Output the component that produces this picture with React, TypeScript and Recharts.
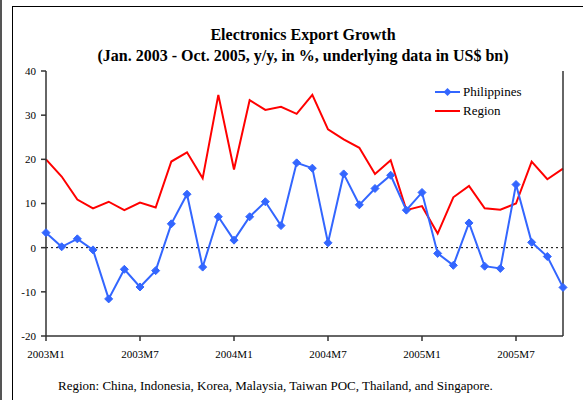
import React from 'react';
import { LineChart, Line, XAxis, YAxis, ReferenceLine } from 'recharts';

// Monthly categories, Jan 2003 to Oct 2005
const months = [
  '2003M1', '2003M2', '2003M3', '2003M4', '2003M5', '2003M6', '2003M7', '2003M8', '2003M9', '2003M10', '2003M11', '2003M12',
  '2004M1', '2004M2', '2004M3', '2004M4', '2004M5', '2004M6', '2004M7', '2004M8', '2004M9', '2004M10', '2004M11', '2004M12',
  '2005M1', '2005M2', '2005M3', '2005M4', '2005M5', '2005M6', '2005M7', '2005M8', '2005M9', '2005M10',
];

// y/y growth, in %
const philippines = [
  3.4, 0.2, 2.0, -0.5, -11.6, -4.9, -8.9, -5.2, 5.4, 12.1, -4.4, 7.0,
  1.7, 7.0, 10.4, 5.0, 19.2, 18.0, 1.1, 16.7, 9.7, 13.4, 16.4, 8.5,
  12.5, -1.3, -4.0, 5.6, -4.2, -4.7, 14.3, 1.2, -2.0, -9.0,
];
const region = [
  20.0, 16.1, 10.9, 8.9, 10.4, 8.5, 10.2, 9.1, 19.5, 21.6, 15.7, 34.6,
  17.7, 33.4, 31.2, 31.9, 30.3, 34.6, 26.8, 24.5, 22.6, 16.7, 19.8, 8.5,
  9.4, 3.2, 11.4, 14.0, 8.9, 8.6, 10.0, 19.5, 15.5, 17.9,
];

const xTicks = ['2003M1', '2003M7', '2004M1', '2004M7', '2005M1', '2005M7'];
const yTicks = [-20, -10, 0, 10, 20, 30, 40];

const data = months.map((m, i) => ({ month: m, philippines: philippines[i], region: region[i] }));

const BLUE = '#3366ff';
const RED = '#ff0000';
const AXIS = '#333333';
const FONT = '"Liberation Serif", "Times New Roman", serif';

const Diamond = (props: any) => {
  const { cx, cy } = props;
  if (cx == null || cy == null) return null;
  const r = 4;
  return (
    <polygon
      points={`${cx},${cy - r} ${cx + r},${cy} ${cx},${cy + r} ${cx - r},${cy}`}
      fill={BLUE}
      stroke={BLUE}
      strokeWidth={1}
    />
  );
};

const tickStyle = { fontSize: 11, fill: '#000', fontFamily: FONT };

export default function App() {
  return (
    <div
      style={{
        position: 'absolute',
        left: 0,
        top: 0,
        width: 583,
        height: 400,
        overflow: 'hidden',
        background: '#fff',
        fontFamily: FONT,
      }}
    >
      {/* page edge and frame */}
      <div style={{ position: 'absolute', left: 0, top: 0, width: 2, height: 400, background: '#555' }} />
      <div
        style={{
          position: 'absolute',
          left: 12,
          top: 6,
          width: 600,
          height: 420,
          border: '1px solid #000',
          boxSizing: 'border-box',
        }}
      />

      <div
        style={{
          position: 'absolute',
          left: 0,
          width: 606,
          top: 24,
          textAlign: 'center',
          fontWeight: 'bold',
          fontSize: 16,
          lineHeight: '21px',
          color: '#000',
        }}
      >
        <div>Electronics Export Growth</div>
        <div>(Jan. 2003 - Oct. 2005, y/y, in %, underlying data in US$ bn)</div>
      </div>

      <div style={{ position: 'absolute', left: 0, top: 0 }}>
        <LineChart width={583} height={400} data={data} margin={{ top: 71, right: 0, left: 0, bottom: 0 }}>
          <XAxis
            dataKey="month"
            ticks={xTicks}
            interval={0}
            height={64}
            tick={tickStyle}
            tickSize={5}
            tickMargin={9}
            stroke={AXIS}
            strokeWidth={1.5}
          />
          <YAxis
            yAxisId="left"
            orientation="left"
            width={46}
            domain={[-20, 40]}
            ticks={yTicks}
            tick={tickStyle}
            tickSize={5}
            tickMargin={5}
            stroke={AXIS}
            strokeWidth={1.5}
          />
          <YAxis
            yAxisId="right"
            orientation="right"
            width={20}
            domain={[-20, 40]}
            ticks={yTicks}
            tick={tickStyle}
            tickSize={5}
            tickMargin={6}
            stroke={AXIS}
            strokeWidth={1.5}
          />
          <ReferenceLine yAxisId="left" y={0} stroke="#000" strokeDasharray="2 3" strokeWidth={1} />
          <Line
            yAxisId="left"
            dataKey="region"
            stroke={RED}
            strokeWidth={2}
            dot={false}
            isAnimationActive={false}
          />
          <Line
            yAxisId="left"
            dataKey="philippines"
            stroke={BLUE}
            strokeWidth={2}
            dot={<Diamond />}
            isAnimationActive={false}
          />
        </LineChart>
      </div>

      {/* legend */}
      <svg style={{ position: 'absolute', left: 430, top: 82 }} width={110} height={40}>
        <line x1={5} y1={10} x2={30} y2={10} stroke={BLUE} strokeWidth={2} />
        <polygon points="17.5,6 21.5,10 17.5,14 13.5,10" fill={BLUE} />
        <text x={33} y={14} fontSize={13} fontFamily={FONT} fill="#000">Philippines</text>
        <line x1={5} y1={29} x2={30} y2={29} stroke={RED} strokeWidth={2} />
        <text x={33} y={33} fontSize={13} fontFamily={FONT} fill="#000">Region</text>
      </svg>

      <div style={{ position: 'absolute', left: 58, top: 378, fontSize: 13, color: '#000', whiteSpace: 'nowrap' }}>
        Region: China, Indonesia, Korea, Malaysia, Taiwan POC, Thailand, and Singapore.
      </div>
    </div>
  );
}
